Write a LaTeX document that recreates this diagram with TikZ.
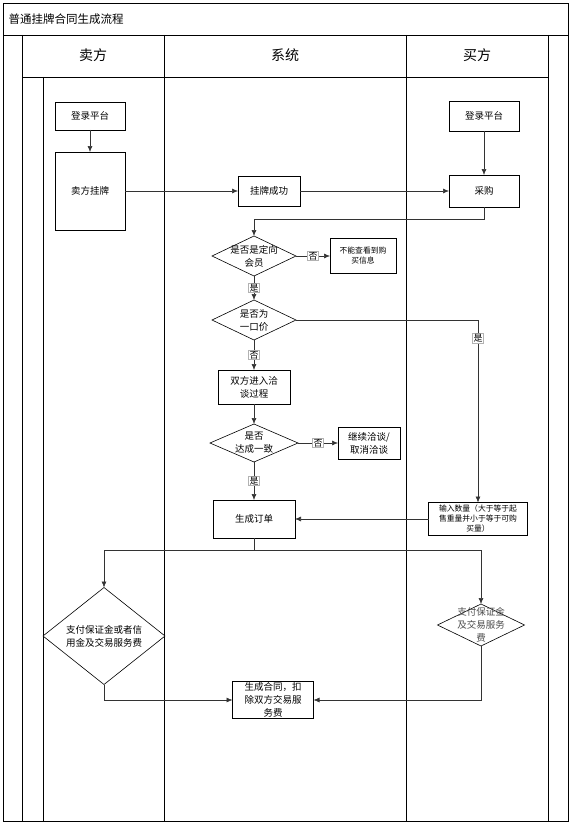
\documentclass[tikz,border=0pt]{standalone}
\usepackage{fontspec}
\setmainfont{Noto Sans CJK SC}
\usetikzlibrary{shapes.geometric, arrows.meta}
\tikzset{
  box/.style={draw=black, fill=white, line width=0.6pt, minimum width=#1, align=center, inner sep=1pt, outer sep=0pt, font=\fontsize{9.5}{13}\selectfont},
  box/.default=70pt,
  decision/.style={draw=black, fill=white, line width=0.6pt, diamond, align=center, inner xsep=-14pt, inner ysep=-7pt, outer sep=0pt, font=\fontsize{9.5}{13}\selectfont},
  conn/.style={->, draw=black!80, line width=0.6pt},
  lbl/.style={fill=white, draw=black!30, inner sep=0.8pt, font=\fontsize{9}{10}\selectfont},
  lane/.style={draw=black, line width=0.6pt}
}
\begin{document}
\begin{tikzpicture}[>={Latex[length=6pt, width=5pt]}, x=1pt, y=-1pt]
    \useasboundingbox (0,0) rectangle (572,824);

    % Pool, title and lanes
    \draw[line width=0.9pt] (3,3) rectangle (568,821);
    \draw[lane] (3,35) -- (568,35);
    \draw[lane] (22,35) -- (22,821);
    \draw[lane] (548,35) -- (548,821);
    \draw[lane] (22,77) -- (548,77);
    \draw[lane] (164,35) -- (164,821);
    \draw[lane] (406,35) -- (406,821);
    \draw[lane] (43,77) -- (43,821);
    \node[anchor=west, font=\fontsize{11.5}{13}\selectfont] (title) at (5,19) {普通挂牌合同生成流程};
    \node[font=\fontsize{14}{16}\selectfont] (seller) at (93,55) {卖方};
    \node[font=\fontsize{14}{16}\selectfont] (system) at (285,55) {系统};
    \node[font=\fontsize{14}{16}\selectfont] (buyer) at (477,55) {买方};

    % Nodes for seller and buyer
    \node[box, minimum height=28pt] (sLogin) at (90,116) {登录平台};
    \node[box, minimum height=78pt] (sList) at (90,191) {卖方挂牌};
    \node[box, minimum height=30pt] (bLogin) at (484,116) {登录平台};
    \node[box, minimum height=32pt] (buy) at (484,191) {采购};
    \node[box=99pt, minimum height=33pt, font=\fontsize{7.8}{10}\selectfont] (qty) at (478,519) {输入数量（大于等于起\\售重量并小于等于可购\\买量）};
    \node[decision, minimum width=122pt, minimum height=97pt] (dPayS) at (104,636) {支付保证金或者信\\用金及交易服务费};
    \node[decision, minimum width=87pt, minimum height=42pt, text=black!70] (dPayB) at (481,625) {支付保证金\\及交易服务\\费};

    % Nodes for system
    \node[box=62pt, minimum height=30pt] (listOk) at (269,191) {挂牌成功};
    \node[decision, minimum width=84pt, minimum height=40pt] (dMember) at (254,256) {是否是定向\\会员};
    \node[box=66pt, minimum height=35pt, font=\fontsize{7.8}{10}\selectfont] (noView) at (363,256) {不能查看到购\\买信息};
    \node[decision, minimum width=84pt, minimum height=40pt] (dPrice) at (254,320) {是否为\\一口价};
    \node[box=72pt, minimum height=34pt] (talk) at (254,387) {双方进入洽\\谈过程};
    \node[decision, minimum width=88pt, minimum height=38pt] (dAgree) at (254,443) {是否\\达成一致};
    \node[box=62pt, minimum height=32pt] (goOn) at (369,443) {继续洽谈/\\取消洽谈};
    \node[box=82pt, minimum height=38pt] (order) at (254,519) {生成订单};
    \node[box=81pt, minimum height=37pt] (contract) at (273,700) {生成合同，扣\\除双方交易服\\务费};

    % Flow
    \draw[conn] (sLogin) -- (sList);
    \draw[conn] (sList) -- (listOk);
    \draw[conn] (listOk) -- (buy);
    \draw[conn] (bLogin) -- (buy);
    \draw[conn] (buy.south) -- ++(0,12) -| (dMember.north);
    \draw[conn] (dMember.east) -- (noView.west) node[midway, lbl] {否};
    \draw[conn] (dMember.south) -- (dPrice.north) node[midway, lbl] {是};
    \draw[conn] (dPrice.south) -- (talk.north) node[midway, lbl] {否};
    \draw[conn] (talk) -- (dAgree);
    \draw[conn] (dAgree.east) -- (goOn.west) node[midway, lbl] {否};
    \draw[conn] (dAgree.south) -- (order.north) node[midway, lbl] {是};
    \draw[conn] (dPrice.east) -| (qty.north) node[pos=0.55, lbl] {是};
    \draw[conn] (qty.west) -- (order.east);
    \draw[conn] (order.south) -- ++(0,12) -| (dPayS.north);
    \draw[conn] (order.south) -- ++(0,12) -| (dPayB.north);
    \draw[conn] (dPayS.south) |- (contract.west);
    \draw[conn] (dPayB.south) |- (contract.east);
\end{tikzpicture}
\end{document}
